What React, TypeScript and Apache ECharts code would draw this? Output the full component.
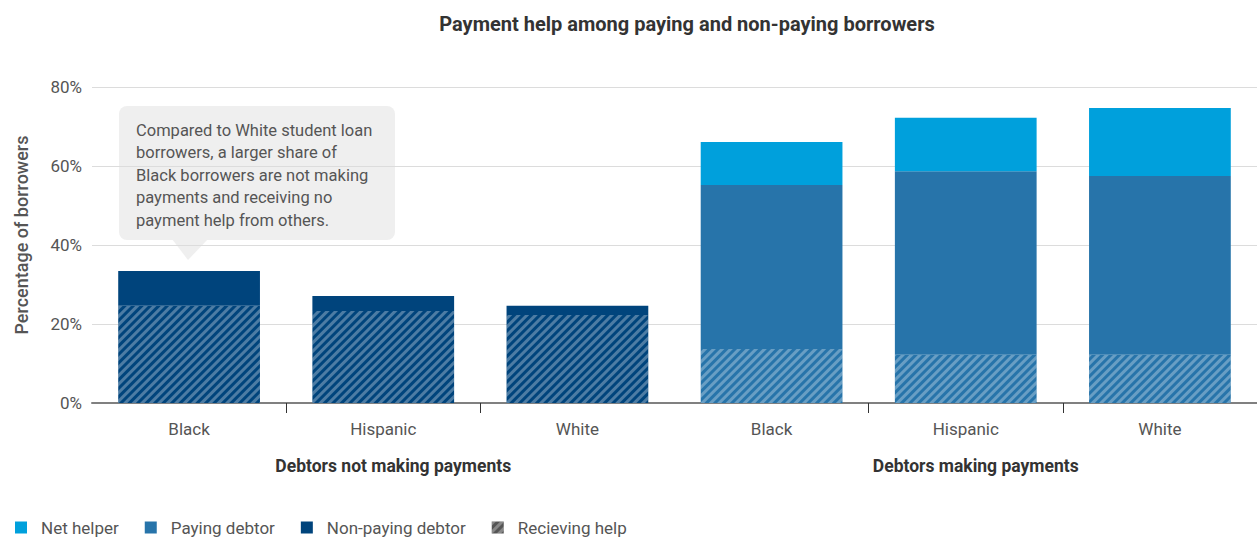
import React, { useEffect, useRef } from "react";
import * as echarts from "echarts";

const categories = ["Black", "Hispanic", "White", "Black", "Hispanic", "White"];
const groupLabels = ["Debtors not making payments", "Debtors making payments"];
const yTicks = [0, 20, 40, 60, 80];

// segment values (percentage points)
const receivingHelp = [24.6, 23.3, 22.3, 13.7, 12.2, 12.2];
const nonPayingDebtor = [8.8, 3.8, 2.3, null, null, null];
const payingDebtor = [null, null, null, 41.5, 46.5, 45.3];
const netHelper = [null, null, null, 10.9, 13.5, 17.2];

const annotationLines = [
  "Compared to White student loan",
  "borrowers, a larger share of",
  "Black borrowers are not making",
  "payments and receiving no",
  "payment help from others.",
];

const C_NET = "#00a0dc";
const C_PAY = "#2774aa";
const C_NON = "#00447c";
const FONT = "Roboto, 'Noto Sans', sans-serif";

const decal = {
  symbol: "rect",
  symbolSize: 1,
  dashArrayX: [1, 0],
  dashArrayY: [3, 3],
  rotation: -Math.PI / 4,
  color: "rgba(255,255,255,0.3)",
};

export default function App() {
  const ref = useRef<HTMLDivElement>(null);
  useEffect(() => {
    if (!ref.current) return;
    const chart = echarts.init(ref.current, null, { renderer: "svg" });
    const option: any = {
      animation: false,
      textStyle: { fontFamily: FONT },
      title: {
        text: "Payment help among paying and non-paying borrowers",
        left: 682,
        top: 9,
        textAlign: "center",
        textStyle: { fontSize: 20, fontWeight: "bold", color: "#333", fontFamily: FONT },
      },
      legend: {
        left: 10,
        top: 514,
        padding: 5,
        itemWidth: 12,
        itemHeight: 12,
        itemGap: 26,
        icon: "rect",
        textStyle: { fontSize: 17, color: "#555", padding: [0, 0, 0, 9], fontFamily: FONT },
        data: [
          { name: "Net helper" },
          { name: "Paying debtor" },
          { name: "Non-paying debtor" },
          { name: "Recieving help", itemStyle: { color: "#555", decal } },
        ],
      },
      grid: { left: 92, right: 0, top: 87, bottom: 134, containLabel: false },
      xAxis: [
        {
          type: "category",
          data: categories,
          position: "bottom",
          axisLine: { show: true, lineStyle: { color: "#808080", width: 2 } },
          axisTick: {
            show: true,
            length: 10,
            lineStyle: { color: "#333", width: 1 },
            interval: (i: number) => i === 1 || i === 2 || i === 4 || i === 5,
          },
          axisLabel: { fontSize: 17, color: "#555", margin: 17, fontFamily: FONT },
        },
        {
          type: "category",
          data: groupLabels,
          position: "bottom",
          axisLine: { show: false },
          axisTick: { show: false },
          axisLabel: {
            fontSize: 17.5,
            fontWeight: "bold",
            color: "#333",
            margin: 54,
            padding: [0, 0, 0, 20],
            fontFamily: FONT,
          },
        },
      ],
      yAxis: {
        type: "value",
        min: yTicks[0],
        max: yTicks[yTicks.length - 1],
        interval: 20,
        name: "Percentage of borrowers",
        nameLocation: "middle",
        nameGap: 62,
        nameTextStyle: {
          fontSize: 18,
          color: "#555",
          fontWeight: 500,
          fontFamily: FONT,
          padding: [0, 0, 0, 20],
        },
        axisLabel: { formatter: "{value}%", fontSize: 17, color: "#555", margin: 10, fontFamily: FONT },
        axisLine: { show: false },
        axisTick: { show: false },
        splitLine: { lineStyle: { color: "#dcdcdc" } },
      },
      series: [
        {
          name: "Recieving help",
          type: "bar",
          stack: "s",
          barCategoryGap: "27%",
          itemStyle: { color: "#555", decal },
          data: receivingHelp.map((v, i) => ({
            value: v,
            itemStyle: { color: i < 3 ? C_NON : C_PAY, decal },
          })),
        },
        {
          name: "Non-paying debtor",
          type: "bar",
          stack: "s",
          itemStyle: { color: C_NON },
          data: nonPayingDebtor,
        },
        {
          name: "Paying debtor",
          type: "bar",
          stack: "s",
          itemStyle: { color: C_PAY },
          data: payingDebtor,
        },
        {
          name: "Net helper",
          type: "bar",
          stack: "s",
          itemStyle: { color: C_NET },
          data: netHelper,
        },
      ],
      graphic: [
        {
          type: "group",
          left: 119,
          top: 106,
          children: [
            {
              type: "rect",
              shape: { x: 0, y: 0, width: 276, height: 134, r: 8 },
              style: { fill: "#efefef" },
            },
            {
              type: "polygon",
              shape: { points: [[53, 133], [89, 133], [69, 154]] },
              style: { fill: "#efefef" },
            },
            {
              type: "text",
              x: 17,
              y: 13,
              style: {
                text: annotationLines.join("\n"),
                fontSize: 16.5,
                lineHeight: 22.5,
                fill: "#555",
                fontFamily: FONT,
              },
            },
          ],
        },
      ],
    };
    chart.setOption(option);
    return () => chart.dispose();
  }, []);
  return <div ref={ref} style={{ width: 1257, height: 537, position: "absolute", left: 0, top: 0 }} />;
}
